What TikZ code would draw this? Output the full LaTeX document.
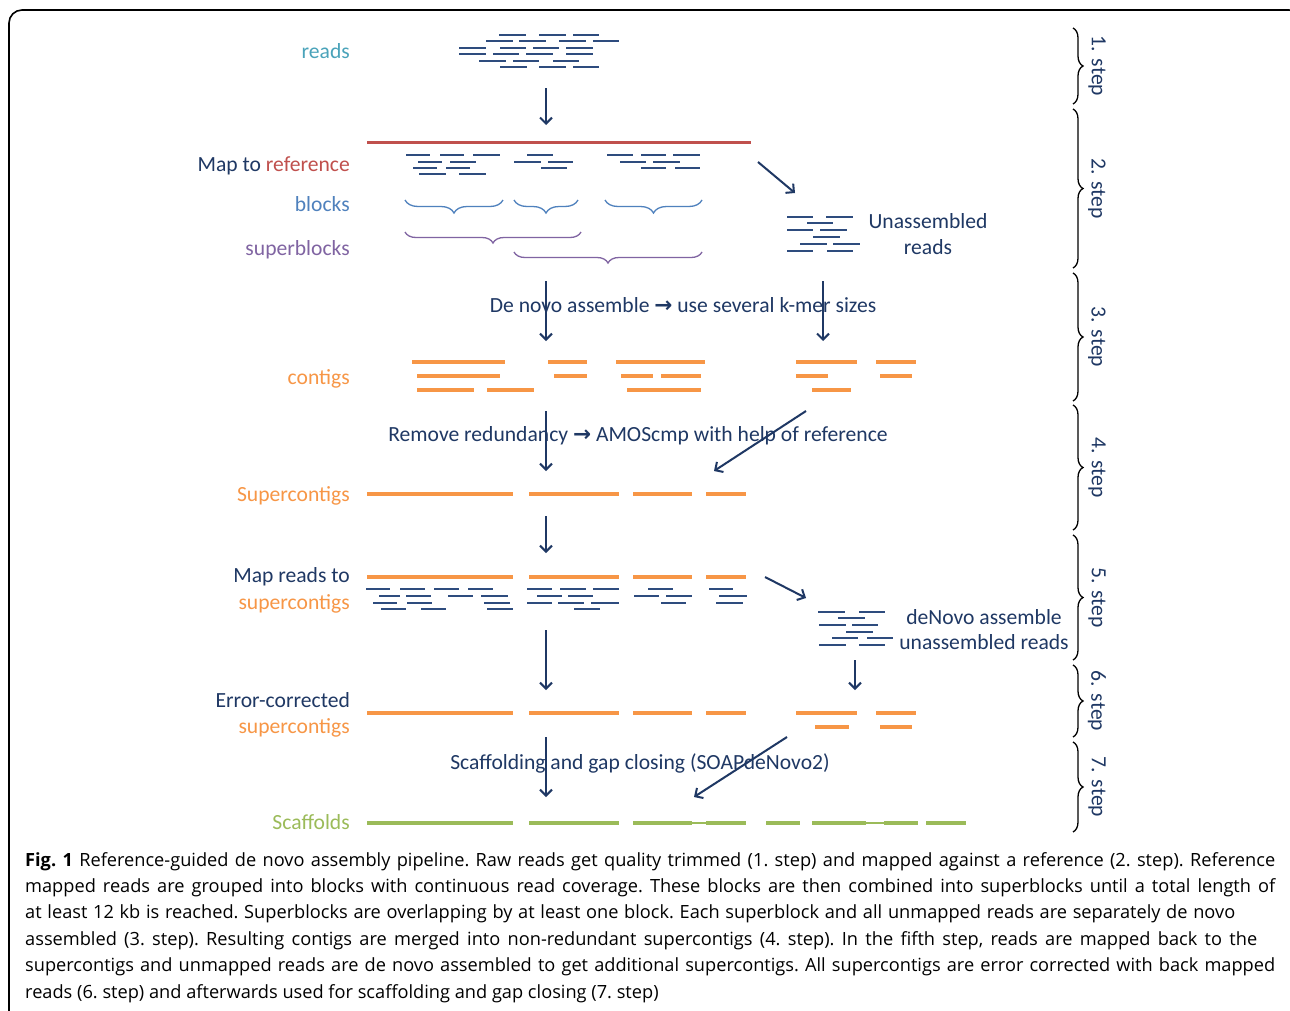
\documentclass[tikz,border=0pt]{standalone}
\usepackage{fontspec}
\setmainfont{Carlito}
\newfontfamily\capfont{Open Sans}
\newfontfamily\symfont{DejaVu Sans}
\usetikzlibrary{arrows.meta,decorations.pathreplacing}
\definecolor{cnavy}{HTML}{1F3864}
\definecolor{creads}{HTML}{2E4C7E}
\definecolor{cteal}{HTML}{4AA3BA}
\definecolor{cred}{HTML}{C0504D}
\definecolor{cblue}{HTML}{4F81BD}
\definecolor{cpurp}{HTML}{8064A2}
\definecolor{corange}{HTML}{F79646}
\definecolor{cgreen}{HTML}{9BBB59}
\tikzset{
  lbl/.style={anchor=mid east, inner sep=0pt, font=\fontsize{21.6}{26}\selectfont},
  txt/.style={inner sep=0pt, font=\fontsize{21.6}{26}\selectfont, text=cnavy},
  steplbl/.style={inner sep=0pt, rotate=-90, font=\fontsize{21.6}{26}\selectfont, text=cnavy},
  readl/.style={draw=creads, line width=1.5pt},
  orl/.style={draw=corange, line width=3.5pt},
  grl/.style={draw=cgreen, line width=3.5pt},
  grthin/.style={draw=cgreen, line width=1.2pt},
  arr/.style={draw=cnavy, line width=2pt, -{Straight Barb[length=6pt,width=12pt]}},
  bracebl/.style={draw=cblue, line width=1.3pt, decorate, decoration={brace, mirror, amplitude=13pt}},
  bracesb/.style={draw=cpurp, line width=1.3pt, decorate, decoration={brace, mirror, amplitude=11pt}},
  stepbrace/.style={draw=black, line width=1.3pt, decorate, decoration={brace, amplitude=10pt}},
  capline/.style={anchor=base west, inner sep=0pt, font=\capfont\fontsize{18.2}{21}\selectfont\frenchspacing, text=black},
}
\begin{document}
\begin{tikzpicture}[x=1pt, y=-1pt]
\useasboundingbox (0,0) rectangle (1290,1010);
\clip (0,0) rectangle (1290,1010);
\fill[white] (0,0) rectangle (1290,1010);
% frame
\draw[line width=1.6pt, rounded corners=13pt] (9,1020) -- (9,10) -- (1302,10) -- (1302,1020);

% ---------- labels ----------
\node[lbl, text=cteal] (lreads) at (350,56) {reads};
\node[lbl, text=cnavy] (lmap) at (350,169) {Map to \textcolor{cred}{reference}};
\node[lbl, text=cblue] (lblocks) at (350,209) {blocks};
\node[lbl, text=cpurp] (lsuper) at (350,253) {superblocks};
\node[lbl, text=corange] (lcontigs) at (350,382) {contigs};
\node[lbl, text=corange] (lsc) at (350,499) {Supercontigs};
\node[lbl, text=cnavy] (lmr) at (350,580) {Map reads to};
\node[lbl, text=corange] (lmr2) at (350,607) {supercontigs};
\node[lbl, text=cnavy] (lec) at (350,705) {Error-corrected};
\node[lbl, text=corange] (lec2) at (350,731) {supercontigs};
\node[lbl, text=cgreen] (lscaf) at (350,827) {Scaffolds};

% ---------- step 1 reads ----------
\foreach \y/\a/\b in {35/499/526, 35/539/566, 35/573/599,
  41/486/513, 41/519/546, 41/559/586, 41/593/619,
  48/459/486, 48/500/526, 48/533/559, 48/566/593,
  54/459/486, 54/493/519, 54/526/553, 54/566/593,
  61/479/506, 61/513/539, 61/553/579,
  67/500/527, 67/539/566, 67/573/599}
  \draw[readl] (\a,\y) -- (\b,\y);

% ---------- reference ----------
\draw[draw=cred, line width=3pt] (367,142) -- (751,142);

% mapped reads
\foreach \y/\a/\b in {155/406/430, 155/440/464, 155/473/500,
  162/418/442, 162/450/476, 168/413/437, 168/446/470, 174/419/446, 174/459/486,
  155/527/553, 162/514/541, 162/548/573, 168/541/567,
  155/607/633, 155/641/666, 155/673/700, 162/620/646, 162/653/680, 168/641/666, 168/675/700}
  \draw[readl] (\a,\y) -- (\b,\y);

% blocks / superblocks braces
\draw[bracebl] (405,200) -- (503,200);
\draw[bracebl] (514,200) -- (578,200);
\draw[bracebl] (605,200) -- (702,200);
\draw[bracesb] (405,232) -- (581,232);
\draw[bracesb] (514,252) -- (702,252);

% unassembled reads
\foreach \y/\a/\b in {217/787/813, 217/826/853, 223/807/833, 230/787/813, 230/820/847,
  237/813/840, 244/800/827, 244/833/860, 251/787/813, 251/827/853}
  \draw[readl] (\a,\y) -- (\b,\y);
\node[txt] (unas1) at (928,221) {Unassembled};
\node[txt] (unas2) at (928,247) {reads};

% ---------- step 3 ----------
\foreach \y/\a/\b in {362/412/505, 362/548/587, 362/616/705, 362/796/857, 362/876/916,
  376/417/500, 376/554/587, 376/621/653, 376/661/701, 376/796/828, 376/880/912,
  390/417/474, 390/487/534, 390/627/701, 390/812/851}
  \draw[orl] (\a,\y) -- (\b,\y);

% ---------- step 4 ----------
\foreach \a/\b in {367/513, 529/619, 633/692, 706/746}
  \draw[orl] (\a,494) -- (\b,494);

% ---------- step 5 ----------
\foreach \a/\b in {367/513, 529/619, 633/692, 706/746}
  \draw[orl] (\a,577) -- (\b,577);
\foreach \y/\a/\b in {589/366/390, 589/400/425, 589/434/459, 589/468/493,
  596/379/400, 596/406/431, 596/448/473, 596/481/508,
  603/373/397, 603/407/432, 603/484/510,
  609/381/406, 609/421/446, 609/487/513,
  589/527/552, 589/560/586, 589/593/619, 596/537/562, 596/568/593,
  603/527/552, 603/558/584, 603/591/619, 609/574/600,
  589/648/673, 596/634/659, 596/666/692, 603/661/686,
  589/709/733, 596/719/747, 603/716/743}
  \draw[readl] (\a,\y) -- (\b,\y);
\foreach \y/\a/\b in {612/818/845, 612/859/885, 618/838/865, 625/819/846, 625/852/878,
  632/846/873, 638/832/858, 638/867/893, 645/819/846, 645/859/885}
  \draw[readl] (\a,\y) -- (\b,\y);
\node[txt] (dn1) at (984,617) {deNovo assemble};
\node[txt] (dn2) at (984,642) {unassembled reads};

% ---------- step 6 ----------
\foreach \y/\a/\b in {713/367/513, 713/529/619, 713/633/692, 713/706/746, 713/796/857, 713/876/916,
  727/815/849, 727/880/912}
  \draw[orl] (\a,\y) -- (\b,\y);

% ---------- step 7 ----------
\draw[grthin] (692,823) -- (706,823);
\draw[grthin] (866,823) -- (884,823);
\foreach \a/\b in {367/513, 529/619, 633/692, 706/746, 766/800, 812/866, 884/918, 926/966}
  \draw[grl] (\a,823) -- (\b,823);

% ---------- arrows ----------
\coordinate (a1s) at (546,88);  \coordinate (a1e) at (546,125);
\coordinate (a2s) at (758,162); \coordinate (a2e) at (795,193);
\coordinate (a3s) at (546,281); \coordinate (a3e) at (546,341);
\coordinate (a4s) at (823,281); \coordinate (a4e) at (823,341);
\coordinate (a5s) at (546,411); \coordinate (a5e) at (546,471);
\coordinate (a6s) at (806,411); \coordinate (a6e) at (714,471);
\coordinate (a7s) at (546,516); \coordinate (a7e) at (546,553);
\coordinate (a8s) at (765,577); \coordinate (a8e) at (806,598);
\coordinate (a9s) at (546,630); \coordinate (a9e) at (546,690);
\coordinate (a10s) at (855,660); \coordinate (a10e) at (855,690);
\coordinate (a11s) at (546,737); \coordinate (a11e) at (546,797);
\coordinate (a12s) at (787,737); \coordinate (a12e) at (694,797);
\foreach \i in {1,...,12} \draw[arr] (a\i s) -- (a\i e);

\node[txt] (t3) at (683,305) {De novo assemble {\symfont\bfseries →} use several k-mer sizes};
\node[txt] (t4) at (638,436) {Remove redundancy {\symfont\bfseries →} AMOScmp with help of reference};
\node[txt] (t7) at (640,763) {Scaffolding and gap closing (SOAPdeNovo2)};

% ---------- step braces ----------
\foreach \t/\b/\n in {28/104/1, 109/268/2, 273/401/3, 405/530/4, 535/660/5, 665/737/6, 742/832/7}{
  \draw[stepbrace] (1073,\t) -- (1073,\b);
  \node[steplbl] (s\n) at (1097,{(\t+\b)/2}) {\n. step};
}

% ---------- caption ----------
\node[capline] (c1) at (25,866) {\makebox[1250pt][s]{\textbf{Fig. 1} Reference-guided de novo assembly pipeline. Raw reads get quality trimmed (1. step) and mapped against a reference (2. step). Reference}};
\node[capline] (c2) at (25,892) {\makebox[1250pt][s]{mapped reads are grouped into blocks with continuous read coverage. These blocks are then combined into superblocks until a total length of}};
\node[capline] (c3) at (25,918.5) {\makebox[1210pt][s]{at least 12 kb is reached. Superblocks are overlapping by at least one block. Each superblock and all unmapped reads are separately de novo}};
\node[capline] (c4) at (25,945) {\makebox[1232pt][s]{assembled (3. step). Resulting contigs are merged into non-redundant supercontigs (4. step). In the fifth step, reads are mapped back to the}};
\node[capline] (c5) at (25,971) {\makebox[1250pt][s]{supercontigs and unmapped reads are de novo assembled to get additional supercontigs. All supercontigs are error corrected with back mapped}};
\node[capline] (c6) at (25,998) {reads (6. step) and afterwards used for scaffolding and gap closing (7. step)};
\end{tikzpicture}
\end{document}
